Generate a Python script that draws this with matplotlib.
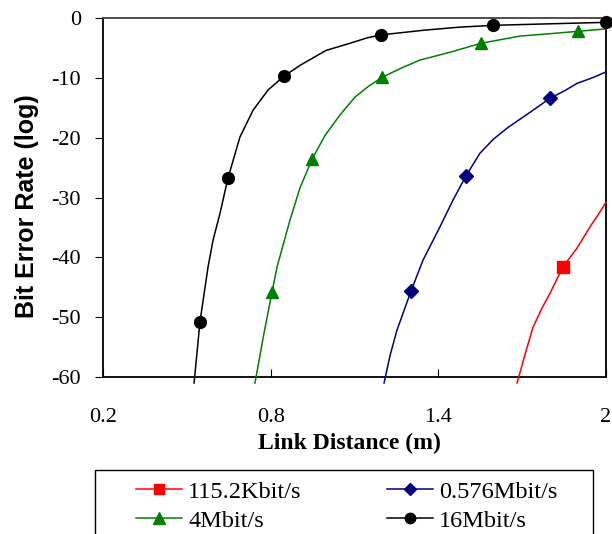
import numpy as np
import matplotlib.pyplot as plt
from matplotlib.lines import Line2D
from matplotlib.patches import Rectangle

plt.rcParams['axes.unicode_minus'] = False

# link distance (m) / bit error rate (log)
dist_115k = [1.682, 1.712, 1.739, 1.770, 1.800, 1.846, 1.896, 1.943, 1.979, 2.0]
ber_115k = [-61.0, -56.0, -51.7, -48.6, -46.0, -41.6, -38.5, -34.9, -32.4, -30.8]
mark_115k = [5]

dist_576k = [1.206, 1.228, 1.252, 1.302, 1.345, 1.406, 1.453, 1.499, 1.549, 1.596,
             1.646, 1.739, 1.800, 1.850, 1.897, 1.950, 2.0]
ber_576k = [-61.0, -56.3, -52.2, -45.7, -40.5, -34.9, -30.4, -26.4, -22.6, -20.3,
            -18.4, -15.4, -13.4, -12.2, -10.9, -10.0, -9.0]
mark_576k = [3, 7, 12]

dist_4m = [0.744, 0.775, 0.805, 0.823, 0.869, 0.905, 0.948, 0.995, 1.048, 1.102, 1.150, 1.199,
           1.270, 1.335, 1.442, 1.553, 1.692, 1.800, 1.900, 2.0]
ber_4m = [-61.0, -53.0, -45.8, -41.6, -33.8, -28.4, -23.6, -19.6, -16.2, -13.2, -11.4, -9.9,
          -8.3, -7.0, -5.7, -4.2, -3.0, -2.6, -2.2, -1.8]
mark_4m = [2, 6, 11, 15, 18]

dist_16m = [0.526, 0.547, 0.576, 0.594, 0.619, 0.647, 0.690, 0.737, 0.791, 0.848, 0.905, 0.998,
            1.084, 1.145, 1.195, 1.352, 1.478, 1.596, 1.836, 2.0]
ber_16m = [-61.0, -50.8, -41.6, -37.1, -32.6, -26.8, -19.9, -15.4, -12.0, -9.7, -7.9, -5.4,
           -4.2, -3.3, -2.8, -2.0, -1.5, -1.2, -0.9, -0.7]
mark_16m = [1, 5, 9, 14, 17, 19]

labels = ["115.2Kbit/s", "0.576Mbit/s", "4Mbit/s", "16Mbit/s"]
xticks = [0.2, 0.8, 1.4, 2.0]
xtick_labels = ["0.2", "0.8", "1.4", "2"]
yticks = [0, -10, -20, -30, -40, -50, -60]

fig = plt.figure(figsize=(6.12, 5.34), dpi=100)
ax = fig.add_axes([0.1683, 0.294, 0.8217, 0.672])

series = [
    (dist_115k, ber_115k, mark_115k, "#ff0000", "s", 8),
    (dist_576k, ber_576k, mark_576k, "#000080", "D", 7),
    (dist_4m, ber_4m, mark_4m, "#008000", "^", 9),
    (dist_16m, ber_16m, mark_16m, "#000000", "o", 8.5),
]

handles = []
for (x, y, mk, c, m, ms), lab in zip(series, labels):
    ax.plot(x, y, color=c, lw=1.1, marker=m, markersize=ms, markevery=mk,
            markeredgecolor=c, markerfacecolor=c, clip_on=False, zorder=3)
    handles.append(Line2D([], [], color=c, lw=1.1, marker=m, markersize=ms - 1,
                          markeredgecolor=c, markerfacecolor=c, label=lab))

ax.set_xlim(0.2, 2.0)
ax.set_ylim(-60, 0)
ax.set_xticks(xticks)
ax.set_xticklabels(xtick_labels)
ax.set_yticks(yticks)

ax.tick_params(axis="x", direction="in", length=6, pad=22, labelsize=16)
ax.tick_params(axis="y", direction="out", length=6, pad=10, labelsize=16)
for lab in ax.get_xticklabels() + ax.get_yticklabels():
    lab.set_fontfamily("Liberation Serif")

for s in ax.spines.values():
    s.set_linewidth(1.3)
    s.set_color("black")
ax.spines["top"].set_color("#404040")

ax.set_ylabel("Bit Error Rate (log)", fontfamily="Liberation Sans", fontweight="bold",
              fontsize=18)
ax.yaxis.set_label_coords(-0.128, 0.475)
ax.set_xlabel("Link Distance (m)", fontfamily="Liberation Serif", fontweight="bold",
              fontsize=17)
ax.xaxis.set_label_coords(0.491, -0.155)

# legend frame drawn separately (runs off the bottom of the figure)
fig.patches.append(Rectangle((0.155, -0.05), 0.814, 0.17, transform=fig.transFigure,
                             facecolor="none", edgecolor="black", lw=1.0))

# column-wise fill: red, green | blue, black
order = [0, 2, 1, 3]
leg = fig.legend([handles[i] for i in order], [labels[i] for i in order],
                 loc="upper left", bbox_to_anchor=(0.222, 0.1), ncol=2, frameon=False,
                 prop={"family": "Liberation Serif", "size": 17.5},
                 handlelength=1.9, handletextpad=0.25, borderpad=0, borderaxespad=0,
                 labelspacing=0.3, columnspacing=3.5)

fig.savefig("out.png", dpi=100)
